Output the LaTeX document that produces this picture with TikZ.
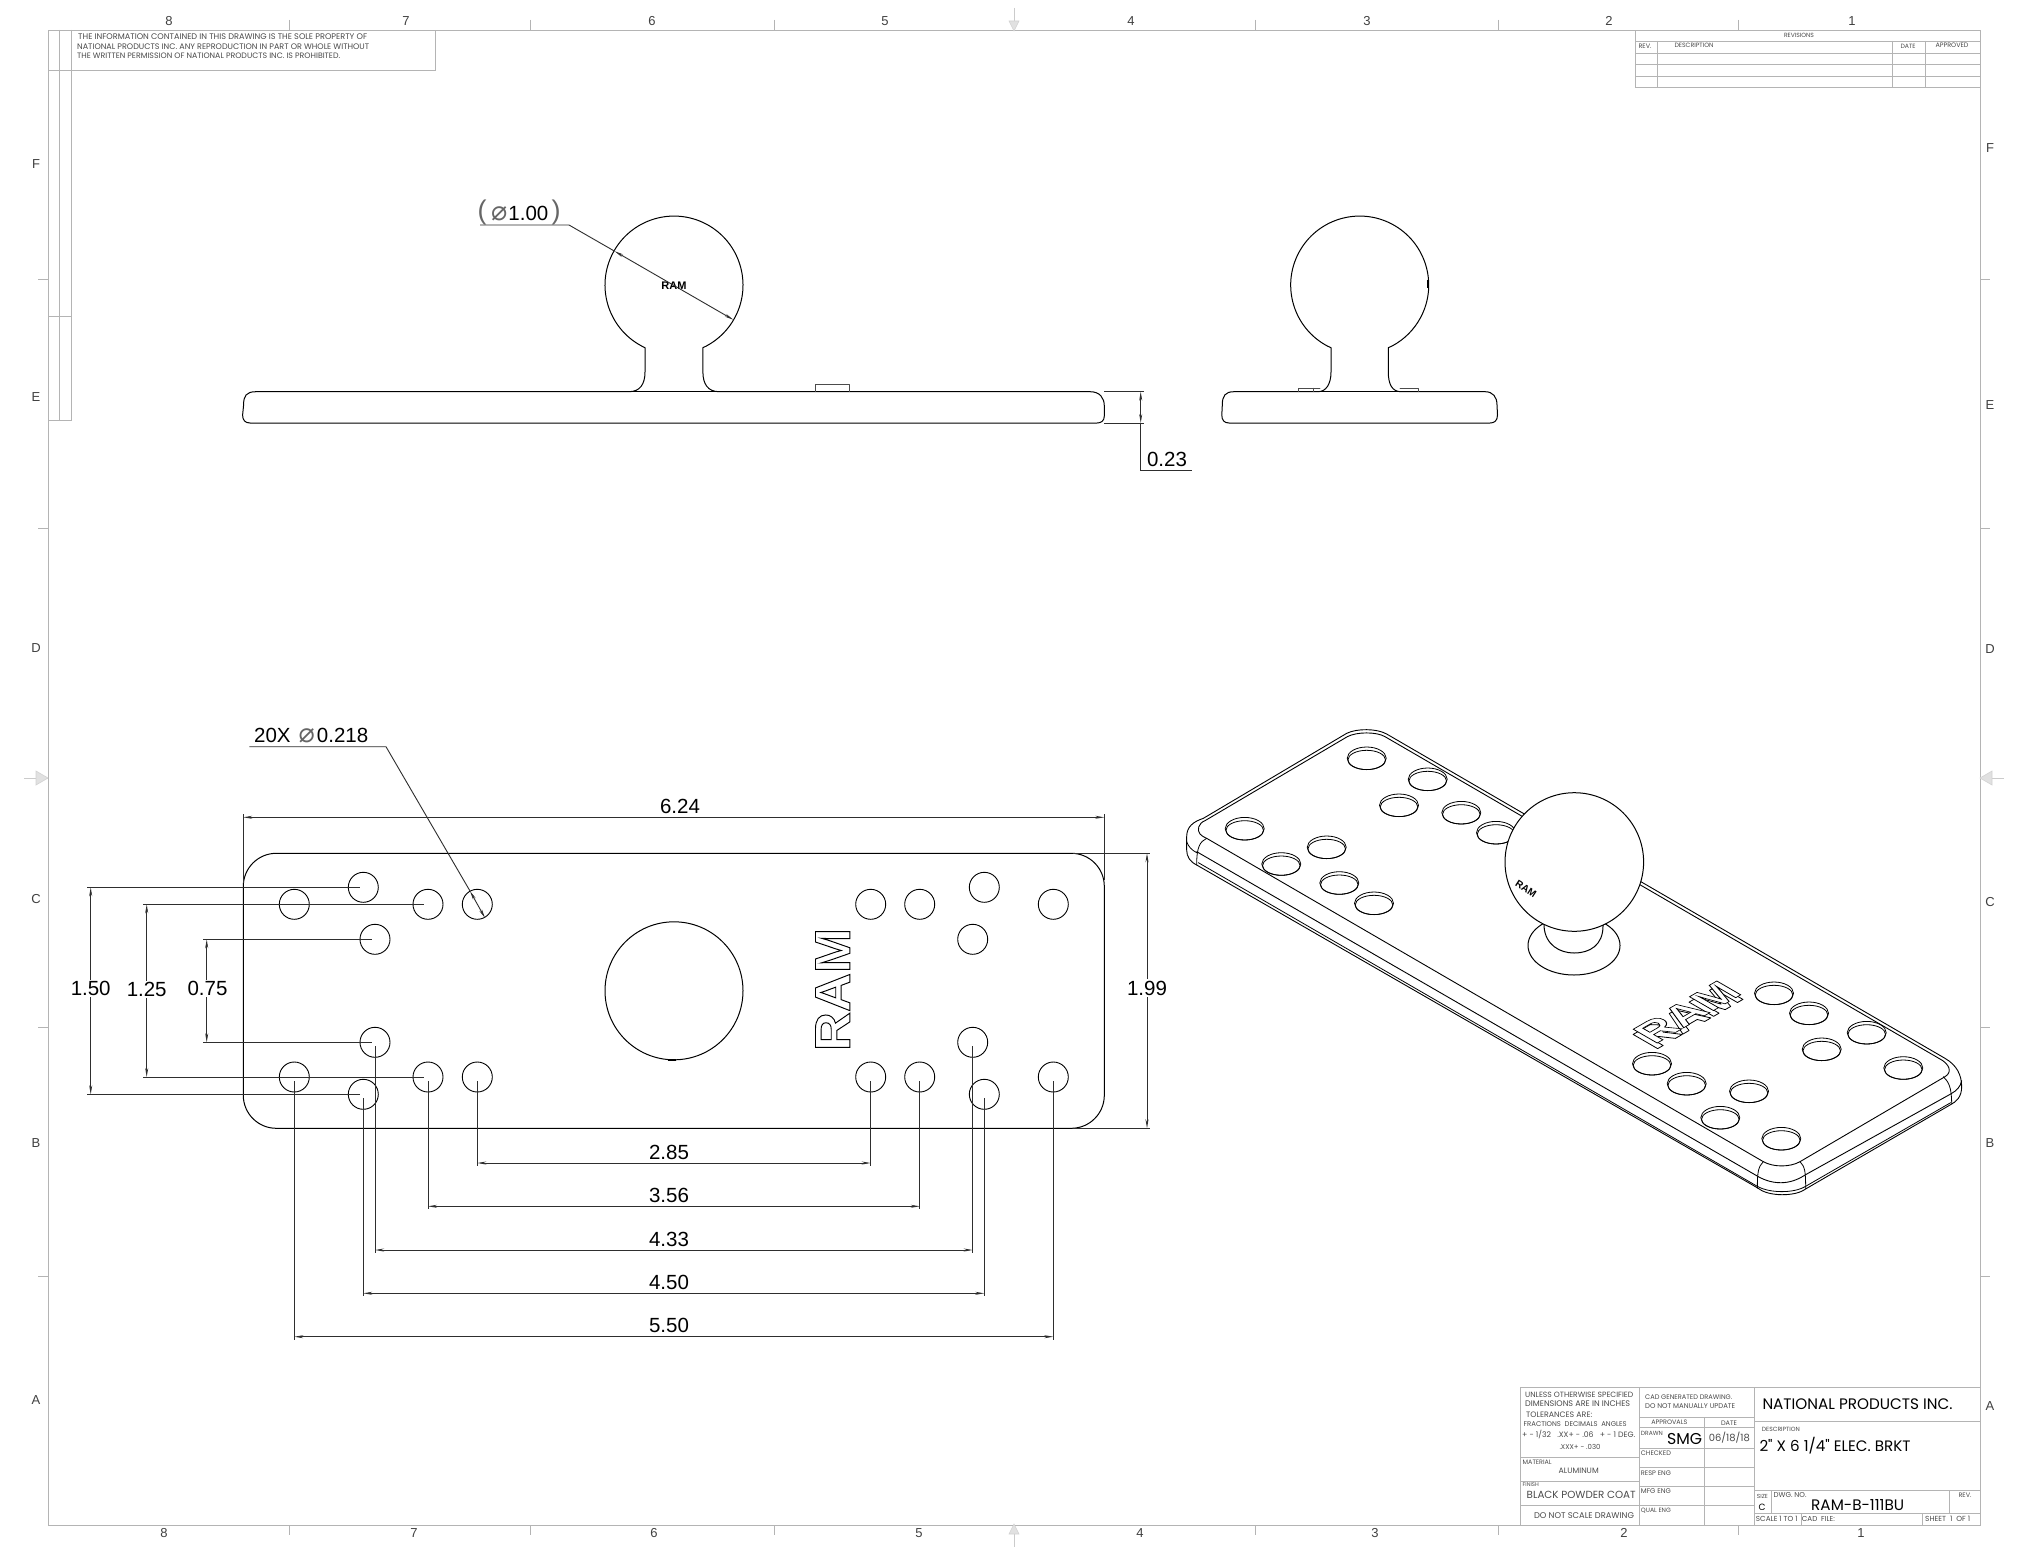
\documentclass[tikz,border=0pt]{standalone}
\usepackage{fontspec}
\setmainfont{Liberation Sans}
\newfontfamily\tbfont{Poppins}
\newfontfamily\sym{DejaVu Sans}
\usetikzlibrary{arrows.meta,calc}
\definecolor{framecol}{HTML}{B4B4B4}
\definecolor{tbtext}{HTML}{4A4A4A}
\definecolor{dimcol}{HTML}{2E2E2E}
\newcommand{\tb}[5][west]{\node[anchor=#1,inner sep=0pt,text=tbtext] at (#2,#3) {\resizebox{#4pt}{!}{\tbfont\vphantom{H}\smash{#5}}};}
\newcommand{\tbk}[5][west]{\node[anchor=#1,inner sep=0pt,text=black] at (#2,#3) {\resizebox{#4pt}{!}{\tbfont\vphantom{H}\smash{#5}}};}
\newcommand{\outl}[1]{\special{pdf:code 1 Tr 0.9 w}#1\special{pdf:code 0 Tr}}
\newcommand{\outlw}[1]{\special{pdf:code q 1 1 1 rg 0 0 0 RG 2 Tr 1 w}#1\special{pdf:code 0 Tr Q}}
\newcommand{\dia}{{\sym\fontsize{27}{27}\selectfont\color{black!60}⌀}}
\tikzset{
 frameline/.style={draw=framecol,line width=0.9pt},
 part/.style={draw=black,line width=1pt,line cap=round,line join=round},
 thinpart/.style={draw=black,line width=0.8pt,line cap=round,line join=round},
 hole/.style={circle,draw=black,line width=0.9pt,minimum size=30pt,inner sep=0pt,fill=none},
 dimline/.style={draw=dimcol,line width=0.9pt,{Stealth[length=9pt,width=3pt]}-{Stealth[length=9pt,width=3pt]}},
 extline/.style={draw=dimcol,line width=0.9pt},
 dimtext/.style={font=\fontsize{20.5}{22}\selectfont,text=black,inner sep=1.5pt},
 sheetmark/.style={font=\fontsize{13}{14}\selectfont,text=black!75},
 marker/.style={draw=framecol!60,fill=framecol!40,line width=0.6pt},
}
\begin{document}
\begin{tikzpicture}[x=1pt,y=-1pt]
\useasboundingbox[fill=white] (0,0) rectangle (2023,1563);
% ---------- sheet frame
\draw[frameline] (48,30) rectangle (1980,1525);
\draw[frameline] (59.5,30) -- (59.5,420) (71.5,30) -- (71.5,420) (48,420) -- (71.5,420) (48,316) -- (71.5,316);
\draw[frameline] (48,70) -- (435.5,70) -- (435.5,30);
\foreach \x in {289,530,774,1255,1498,1738}{\draw[frameline] (\x,20) -- (\x,30) (\x,1525) -- (\x,1535);}
\foreach \y in {279,528,1027,1276}{\draw[frameline] (38,\y) -- (48,\y) (1980,\y) -- (1990,\y);}
% centre markers
\draw[frameline,draw=framecol!70] (1014,8) -- (1014,30) (1014,1525) -- (1014,1547) (24,778) -- (48,778) (1980,778) -- (2004,778);
\draw[marker] (1009,21) -- (1019,21) -- (1014,31) -- cycle;
\draw[marker] (1009,1534) -- (1019,1534) -- (1014,1524) -- cycle;
\draw[marker] (36,771) -- (36,785) -- (48,778) -- cycle;
\draw[marker] (1992,771) -- (1992,785) -- (1980,778) -- cycle;
% sheet labels
\foreach \t/\x in {8/169,7/406,6/652,5/885,4/1131,3/1367,2/1609,1/1852}{\node[sheetmark] at (\x,21) {\t};}
\foreach \t/\x in {8/164,7/414,6/654,5/919,4/1140,3/1375,2/1624,1/1861}{\node[sheetmark] at (\x,1533) {\t};}
\foreach \t/\y in {F/164,E/397,D/648,C/899,B/1143,A/1400}{\node[sheetmark] at (36,\y) {\t};}
\foreach \t/\y in {F/148,E/405,D/649,C/902,B/1143,A/1406}{\node[sheetmark] at (1990,\y) {\t};}
% info text
\tb{78}{36.7}{289}{THE INFORMATION CONTAINED IN THIS DRAWING IS THE SOLE PROPERTY OF}
\tb{77}{46.7}{292}{NATIONAL PRODUCTS INC. ANY REPRODUCTION IN PART OR WHOLE WITHOUT}
\tb{77}{56}{263}{THE WRITTEN PERMISSION OF NATIONAL PRODUCTS INC. IS PROHIBITED.}
% ---------- revisions
\draw[frameline] (1635,30) rectangle (1980,87.5);
\foreach \y in {41,53,64.5,76}{\draw[frameline] (1635,\y) -- (1980,\y);}
\foreach \x in {1657.7,1892,1925}{\draw[frameline] (\x,41) -- (\x,87.5);}
\tb[center]{1799}{35}{30}{REVISIONS}
\tb[center]{1645}{46}{13}{REV.}
\tb[center]{1694}{45}{39}{DESCRIPTION}
\tb[center]{1908}{46}{15}{DATE}
\tb[center]{1952}{45}{33}{APPROVED}
% ---------- title block
\draw[frameline] (1520,1387) -- (1980,1387) (1520,1387) -- (1520,1525);
\draw[frameline] (1639.3,1387) -- (1639.3,1525) (1754.3,1387) -- (1754.3,1525);
\draw[frameline] (1520,1457.3) -- (1639.3,1457.3) (1520,1481.7) -- (1639.3,1481.7) (1520,1505.7) -- (1639.3,1505.7);
\draw[frameline] (1639.3,1417.3) -- (1754.3,1417.3) (1639.3,1427) -- (1754.3,1427) (1639.3,1448) -- (1754.3,1448) (1639.3,1467.3) -- (1754.3,1467.3) (1639.3,1486.7) -- (1754.3,1486.7) (1639.3,1505.7) -- (1754.3,1505.7);
\draw[frameline] (1704.7,1417.3) -- (1704.7,1525);
\draw[frameline] (1754.3,1421.7) -- (1980,1421.7) (1754.3,1490.7) -- (1980,1490.7) (1754.3,1513.3) -- (1980,1513.3);
\draw[frameline] (1771.7,1490.7) -- (1771.7,1513.3) (1949.3,1490.7) -- (1949.3,1513.3) (1801,1513.3) -- (1801,1525) (1922.7,1513.3) -- (1922.7,1525);
\tb{1525}{1395}{108}{UNLESS OTHERWISE SPECIFIED}
\tb{1525}{1404}{105}{DIMENSIONS ARE IN INCHES}
\tb{1526}{1414.3}{66}{TOLERANCES ARE:}
\tb{1523.5}{1424.3}{103}{FRACTIONS\ \ DECIMALS\ \ ANGLES}
\tb{1522}{1435}{113}{+ - 1/32\ \ \ .XX+ - .06\ \ \ + - 1 DEG.}
\tb[center]{1580}{1446.7}{41}{.XXX+ - .030}
\tb{1522.5}{1462.7}{29}{MATERIAL}
\tb[center]{1578.7}{1470.7}{40}{ALUMINUM}
\tb{1522.5}{1485}{16}{FINISH}
\tb{1526.5}{1495}{109}{BLACK POWDER COAT}
\tb[center]{1584}{1515.3}{100}{DO NOT SCALE DRAWING}
\tb{1645}{1396.7}{87}{CAD GENERATED DRAWING.}
\tb{1645}{1406}{90}{DO NOT MANUALLY UPDATE}
\tb[center]{1669.3}{1422.3}{36}{APPROVALS}
\tb[center]{1729}{1423}{16}{DATE}
\tb{1640.7}{1433}{22}{DRAWN}
\tbk[center]{1684.5}{1439.5}{35}{SMG}
\tb[center]{1729.3}{1438.3}{41}{06/18/18}
\tb{1640.7}{1453.3}{30}{CHECKED}
\tb{1640.7}{1472.7}{30}{RESP ENG}
\tb{1640.7}{1490.7}{30}{MFG ENG}
\tb{1640.7}{1510}{30}{QUAL ENG}
\tbk{1762.3}{1404.3}{190}{NATIONAL PRODUCTS INC.}
\tb{1761.7}{1429.3}{38}{DESCRIPTION}
\tbk{1759.3}{1446.7}{151}{2" X 6 1/4" ELEC. BRKT}
\tb{1756.7}{1496.7}{11}{SIZE}
\tbk[center]{1762}{1507}{7}{C}
\tb{1773.3}{1495}{33}{DWG. NO.}
\tbk{1811}{1505}{93}{RAM-B-111BU}
\tb[center]{1965}{1495}{13}{REV.}
\tb{1755.7}{1519.3}{41.7}{SCALE 1 TO 1}
\tb{1801.7}{1519.3}{33}{CAD\ \ FILE:}
\tb{1925}{1519.3}{45}{SHEET\ \ 1\ \ OF 1}
% ---------- front view
\draw[part] (243.6,405) .. controls (243.6,396) and (246,391.7) .. (256,391.7) -- (629,391.7)
  .. controls (640,391.7) and (645,384) .. (645,372) -- (645,347.7) -- (641.6,346)
  arc[start angle=118,end angle=422,radius=69] -- (702.9,347.7) -- (702.9,372)
  .. controls (702.9,384) and (708,391.7) .. (719,391.7) -- (1090,391.7)
  .. controls (1100,391.7) and (1104.3,398) .. (1104.3,406) -- (1104.3,416)
  .. controls (1104.3,421) and (1101,423) .. (1097,423) -- (250,423)
  .. controls (245,423) and (242.6,420) .. (242.6,415) -- cycle;
\draw[part] (629,391.7) -- (719,391.7);
\draw[thinpart,draw=black!70] (815,391.7) -- (815,384.5) -- (849,384.5) -- (849,391.7);
\coordinate (ballA) at (674,285.5);
\node[inner sep=0pt,font=\bfseries\fontsize{11}{12}\selectfont] (ramA) at (ballA) {RAM};
\coordinate (leadA) at (569,225);
\coordinate (leadB) at (480,225);
\coordinate (tipA) at (614.6,251.2);
\coordinate (tipB) at (733.4,319.8);
\draw[extline] (leadB) -- (leadA) -- (tipA);
\draw[dimline] (tipA) -- (tipB);
\node[dimtext,inner sep=0pt,anchor=base west] at (491,220.5) {\dia\hspace{1pt}1.00};
\node[inner sep=0pt,font=\fontsize{27}{27}\selectfont,text=black!60] at (482,212.5) {(};
\node[inner sep=0pt,font=\fontsize{27}{27}\selectfont,text=black!60] at (556,212.5) {)};
% 0.23
\coordinate (tTop) at (1144,391.7);
\coordinate (tBot) at (1144,423);
\coordinate (tEnd) at (1191.7,470.7);
\draw[extline] (1104,391.7) -- (tTop) (1104,423) -- (tBot);
\draw[dimline] (1140.7,391.7) -- (1140.7,423);
\draw[extline] (1140.7,423) -- (1140.7,470.7) -- (tEnd);
\node[dimtext] at (1167,459.5) {0.23};
% ---------- side view
\draw[part] (1222.3,405) .. controls (1222.3,396) and (1225,391.7) .. (1234,391.7) -- (1318,391.7)
  .. controls (1326,391.7) and (1331,384) .. (1331,372) -- (1331,347.7) -- (1327.3,346)
  arc[start angle=118,end angle=422,radius=69] -- (1388.3,347.7) -- (1388.3,372)
  .. controls (1388.3,384) and (1392,391.7) .. (1401,391.7) -- (1485,391.7)
  .. controls (1493,391.7) and (1497,397) .. (1497,405) -- (1497.5,415)
  .. controls (1497.5,421) and (1494,423) .. (1490,423) -- (1229,423)
  .. controls (1224,423) and (1221.8,420) .. (1221.8,415) -- cycle;
\draw[part] (1318,391.7) -- (1401,391.7);
\draw[thinpart,draw=black!70] (1298.3,391.7) -- (1298.3,388.3) -- (1320,388.3) (1313,388.3) -- (1313,391.7) (1400,388.3) -- (1418,388.3) -- (1418,391.7);
\draw[black,line width=2pt] (1428.3,280) -- (1428.3,288);
% ---------- plan view
\draw[part] (276.3,853.3) -- (1071.3,853.3) arc[start angle=270,end angle=360,radius=33] -- (1104.3,1095.3) arc[start angle=0,end angle=90,radius=33] -- (276.3,1128.3) arc[start angle=90,end angle=180,radius=33] -- (243.3,886.3) arc[start angle=180,end angle=270,radius=33] -- cycle;
\node[circle,draw=black,line width=1pt,minimum size=138pt,inner sep=0pt] (bigc) at (674,990.8) {};
\draw[black,line width=1.6pt] (668,1059.8) -- (676,1059.8);
\foreach \n/\x/\y in {ta/294.3/904.3,tb/363.3/887.3,tc/428/904.3,td/477.3/904.3,te/375/939.3,be/375/1042.3,ba/294.3/1077,bb/363.3/1094.3,bc/428/1077,bd/477.3/1077,tf/870.7/904.3,tg/919.7/904.3,th/984.3/887.3,ti/1053.3/904.3,tj/972.7/939.3,bj/972.7/1042.3,bf/870.7/1077,bg/919.7/1077,bh/984.3/1094.3,bi/1053.3/1077}{\node[hole] (\n) at (\x,\y) {};}
\node[inner sep=0pt,rotate=90,font=\bfseries\fontsize{50}{50}\selectfont] (ramP) at (832.7,989.5) {\scalebox{1.08}[1]{\outl{RAM}}};
% 6.24
\coordinate (wL) at (243.3,817.3);
\coordinate (wR) at (1104.3,817.3);
\draw[extline] (243.3,814) -- (243.3,883) (1104.3,814) -- (1104.3,880);
\draw[dimline] (wL) -- (wR);
\node[dimtext] at (680,806) {6.24};
% leader
\coordinate (ldA) at (249.3,746.7);
\coordinate (ldB) at (386,746.7);
\coordinate (ldT) at (470,891);
\draw[extline] (ldA) -- (ldB) -- (ldT);
\draw[dimline] (ldT) -- (485,918);
\node[dimtext,anchor=base west,inner sep=0pt] at (254,742.7) {20X\hspace{8pt}\dia\hspace{2pt}0.218};
% left dims
\coordinate (x150) at (90.7,0); \coordinate (x125) at (146.7,0); \coordinate (x075) at (206.7,0);
\draw[extline,shorten >=3pt,shorten <=-3.5pt] (x150 |- tb.center) -- (tb.center);
\draw[extline,shorten >=3pt,shorten <=-3.5pt] (x150 |- bb.center) -- (bb.center);
\draw[extline,shorten >=4pt,shorten <=-3.5pt] (x125 |- tc.center) -- (tc.center);
\draw[extline,shorten >=4pt,shorten <=-3.5pt] (x125 |- bc.center) -- (bc.center);
\draw[extline,shorten >=3pt,shorten <=-3.5pt] (x075 |- te.center) -- (te.center);
\draw[extline,shorten >=3pt,shorten <=-3.5pt] (x075 |- be.center) -- (be.center);
\draw[dimline] (x150 |- tb.center) -- (x150 |- bb.center);
\draw[dimline] (x125 |- tc.center) -- (x125 |- bc.center);
\draw[dimline] (x075 |- te.center) -- (x075 |- be.center);
\node[dimtext,fill=white] at (90.7,988.5) {1.50};
\node[dimtext,fill=white] at (146.7,989.5) {1.25};
\node[dimtext,fill=white] at (207.5,988.5) {0.75};
% 1.99
\coordinate (hT) at (1147,853.3);
\coordinate (hB) at (1147,1128.3);
\draw[extline] (1073,853.3) -- (1150,853.3) (1073,1128.3) -- (1150,1128.3);
\draw[dimline] (hT) -- (hB);
\node[dimtext,fill=white] at (1147,988.2) {1.99};
% bottom dims
\foreach \a/\b/\y/\t in {bd/bf/1163/2.85,bc/bg/1206.3/3.56,be/bj/1250/4.33,bb/bh/1293.3/4.50,ba/bi/1336.7/5.50}{
  \coordinate (yy) at (0,\y);
  \draw[extline,shorten <=4pt,shorten >=-3pt] (\a.center) -- (\a.center |- yy);
  \draw[extline,shorten <=4pt,shorten >=-3pt] (\b.center) -- (\b.center |- yy);
  \draw[dimline] (\a.center |- yy) -- (\b.center |- yy);
  \node[dimtext] at (669,\y-11) {\t};
}
% ---------- isometric view (coordinates in 1/3 px)
\begin{scope}[shift={(1170,710)},x=0.33333pt,y=-0.33333pt]
 \draw[part,line width=0.9pt] (50,380) .. controls (50,350) and (70,335) .. (100,325) -- (530,70) .. controls (560,55) and (620,55) .. (650,72) -- (2325,1045)
  .. controls (2360,1065) and (2375,1095) .. (2375,1130) .. controls (2375,1160) and (2360,1175) .. (2340,1185) -- (1905,1438) .. controls (1875,1460) and (1795,1460) .. (1765,1435) -- (80,465) .. controls (60,455) and (50,440) .. (50,420) -- cycle;
 \draw[part,line width=0.9pt] (90,372) .. controls (80,360) and (85,340) .. (105,332) -- (532,80) .. controls (560,65) and (620,65) .. (645,80) -- (2310,1047)
  .. controls (2335,1060) and (2350,1085) .. (2325,1100) -- (1890,1355) .. controls (1860,1372) and (1810,1372) .. (1780,1355) -- (110,385) .. controls (100,380) and (95,378) .. (90,372) -- cycle;
 \draw[part,line width=0.9pt] (80,425) -- (1765,1400) .. controls (1810,1425) and (1860,1425) .. (1905,1395) -- (2342,1152) .. controls (2360,1142) and (2372,1130) .. (2375,1112);
 \draw[part,line width=0.8pt] (85,458) -- (1762,1429) .. controls (1800,1450) and (1870,1450) .. (1905,1430) -- (2342,1178);
 \draw[part,line width=0.8pt] (1780,1355) .. controls (1765,1370) and (1762,1385) .. (1762,1435);
 \draw[part,line width=0.8pt] (1890,1355) .. controls (1905,1370) and (1907,1385) .. (1907,1437);
 \draw[part,line width=0.8pt] (2320,1100) .. controls (2335,1115) and (2345,1130) .. (2345,1182);
 \draw[part,line width=0.8pt] (110,385) .. controls (90,395) and (80,410) .. (80,465);
 \draw[part,line width=0.8pt] (50,395) .. controls (55,410) and (65,420) .. (80,428);
\end{scope}
\foreach \n/\x/\y in {i1/1366.7/758.3,i2/1427.7/779.3,i3/1399/805.3,i4/1461.3/812.7,i5/1496/832.7,i6/1244.7/828.7,i7/1281.3/864,i8/1326.7/847.3,i9/1339.3/883,i10/1374/903.3,i11/1774/993.3,i12/1809/1013.3,i13/1866.7/1032.7,i14/1821.7/1049.3,i15/1903.3/1068,i16/1652/1063.7,i17/1686.7/1083.7,i18/1749/1091.3,i19/1720.3/1117.7,i20/1781.3/1138.7}{
 \draw[part,line width=0.8pt] (\x,\y) ellipse[x radius=19.5,y radius=11.3];
 \draw[part,line width=0.8pt] (\x,\y+1.65) ellipse[x radius=18.8,y radius=9.65];
}
% base, neck, ball
\draw[part,fill=white] (1574,945.5) ellipse[x radius=46,y radius=29.5];
\draw[part,fill=white] (1544,915) -- (1544,926) .. controls (1545,945) and (1560,953) .. (1574,953) .. controls (1590,953) and (1603,945) .. (1603,926) -- (1603,915) -- cycle;
\node[circle,draw=black,fill=white,line width=1pt,minimum size=138.6pt,inner sep=0pt] (ballC) at (1574.3,862) {};
\node[inner sep=0pt,rotate=-33,font=\bfseries\fontsize{10}{11}\selectfont] at (1526,888.5) {RAM};
% isometric logo: raised sides, then the lettering
\begin{scope}[shift={(1687,1017.5)},cm={.682,.394,-.682,.394,(0,0)},y=1pt]
 \draw[part,line width=0.8pt,fill=white] (-61,-18) -- (-53,-18) -- (-53,-3) -- (-45,-3) -- (-35,-18) -- (-25,-18) -- (-36,-1) -- (-28,9) -- (-36,18) -- (-61,18) -- cycle;
 \draw[part,line width=0.8pt,fill=white] (-24,-18) -- (-15,-18) -- (-12,-10) -- (5,-10) -- (8,-18) -- (17,-18) -- (1,18) -- (-8,18) -- cycle;
 \draw[part,line width=0.8pt,fill=white] (21,-18) -- (29,-18) -- (29,10) -- (38,-18) -- (46,-18) -- (56,10) -- (56,-18) -- (64,-18) -- (64,18) -- (51,18) -- (42,-8) -- (33,18) -- (21,18) -- cycle;
\end{scope}
\begin{scope}[shift={(1687,1012)},cm={.682,.394,-.682,.394,(0,0)}]
 \node[transform shape,inner sep=0pt,xscale=1.12,font=\bfseries\fontsize{51}{51}\selectfont] {\outlw{RAM}};
\end{scope}
\end{tikzpicture}
\end{document}
